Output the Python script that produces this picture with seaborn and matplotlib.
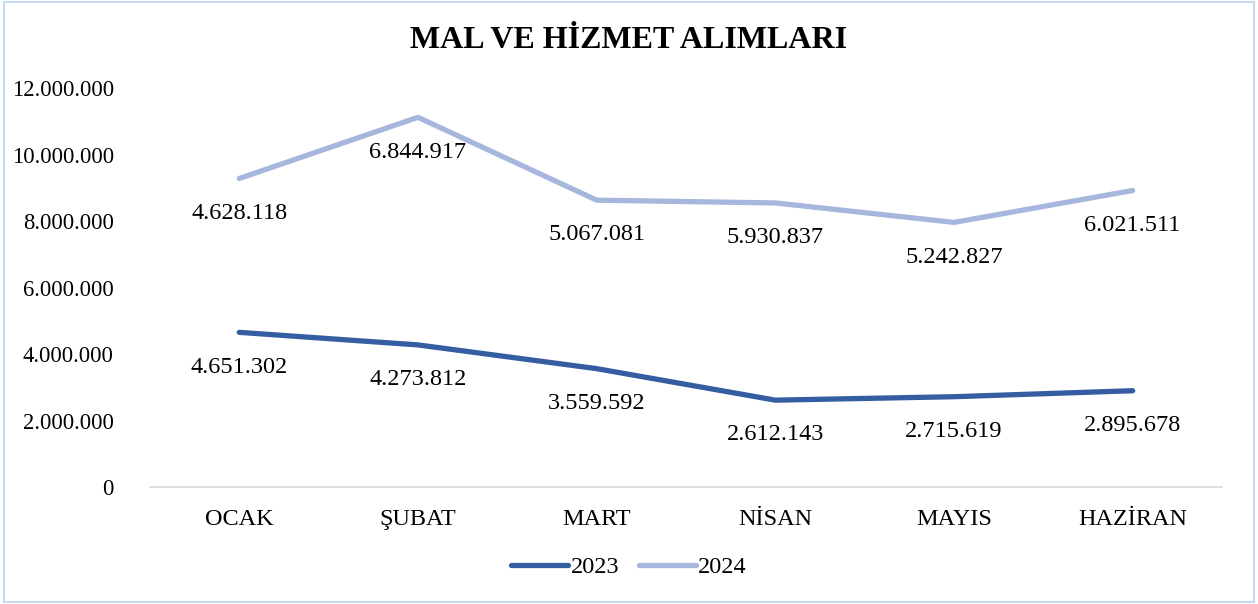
import pandas as pd
import matplotlib.pyplot as plt
import seaborn as sns
from matplotlib.ticker import FuncFormatter
from matplotlib.patches import Rectangle

# %% veri
aylar = ["OCAK", "ŞUBAT", "MART", "NİSAN", "MAYIS", "HAZİRAN"]
y2023 = [4651302, 4273812, 3559592, 2612143, 2715619, 2895678]
y2024 = [4628118, 6844917, 5067081, 5930837, 5242827, 6021511]

# yığılmış çizgi grafiği: 2024 serisi 2023'ün üstüne eklenir
yigin2024 = [a + b for a, b in zip(y2023, y2024)]

df = pd.DataFrame({
    "ay": aylar * 2,
    "yil": ["2023"] * 6 + ["2024"] * 6,
    "deger": y2023 + yigin2024,
    "etiket": y2023 + y2024,
})

def nokta(x):
    return f"{int(x):,}".replace(",", ".")

# %% grafik
sns.set_theme(style="white")
plt.rcParams["font.family"] = ["Liberation Serif", "DejaVu Serif"]
plt.rcParams["text.color"] = "black"
plt.rcParams["xtick.color"] = "black"
plt.rcParams["ytick.color"] = "black"

fig = plt.figure(figsize=(12.58, 6.04), dpi=100)
ax = fig.add_axes([0.1192, 0.1937, 0.8522, 0.6606])

renkler = {"2023": "#355DA2", "2024": "#A6B6DC"}
sns.lineplot(data=df, x="ay", y="deger", hue="yil", palette=renkler,
             linewidth=3.8, sort=False, ax=ax, legend=True,
             solid_capstyle="round")

for _, r in df.iterrows():
    ax.annotate(nokta(r["etiket"]), (aylar.index(r["ay"]), r["deger"]),
                xytext=(0, -25), textcoords="offset points",
                ha="center", va="center", fontsize=17.5, color="black")

ax.set_xlim(-0.5, 5.5)
ax.set_ylim(0, 12000000)
ax.set_yticks(range(0, 12000001, 2000000))
ax.yaxis.set_major_formatter(FuncFormatter(lambda v, p: nokta(v)))
ax.tick_params(axis="y", labelsize=16.3, length=0, pad=26)
ax.tick_params(axis="x", labelsize=17.5, length=0, pad=16)
ax.set_xlabel("")
ax.set_ylabel("")
for s in ["top", "right", "left"]:
    ax.spines[s].set_visible(False)
ax.spines["bottom"].set_color("#D9D9D9")
ax.spines["bottom"].set_linewidth(1.2)

fig.suptitle("MAL VE HİZMET ALIMLARI", fontsize=23, fontweight="bold",
             y=0.957, color="black")

h, l = ax.get_legend_handles_labels()
ax.get_legend().remove()
fig.legend(h, l, loc="center", bbox_to_anchor=(0.5, 0.061), ncol=2,
           frameon=False, fontsize=17.5, handlelength=2.35, handletextpad=0.1,
           columnspacing=0.8)

fig.patches.append(Rectangle((0.003, 0.003), 0.994, 0.994, transform=fig.transFigure,
                             fill=False, edgecolor="#C5D9F1", linewidth=1.5))

fig.savefig("out.png", dpi=100)
